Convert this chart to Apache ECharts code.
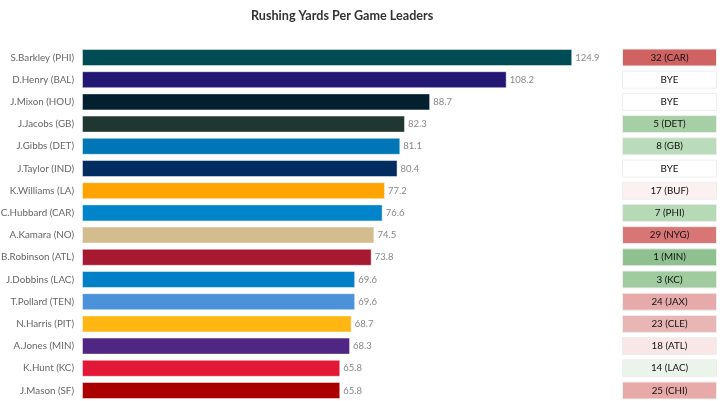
<!DOCTYPE html>
<html>
<head>
<meta charset="utf-8">
<script src="https://cdn.jsdelivr.net/npm/echarts@6/dist/echarts.min.js"></script>
<style>
  html, body { margin: 0; padding: 0; background: #fff; }
  #main { width: 725px; height: 401px; }
</style>
</head>
<body>
<div id="main"></div>
<script>
// players and their rushing yards per game
const players = ['S.Barkley (PHI)', 'D.Henry (BAL)', 'J.Mixon (HOU)', 'J.Jacobs (GB)', 'J.Gibbs (DET)', 'J.Taylor (IND)',
  'K.Williams (LA)', 'C.Hubbard (CAR)', 'A.Kamara (NO)', 'B.Robinson (ATL)', 'J.Dobbins (LAC)', 'T.Pollard (TEN)',
  'N.Harris (PIT)', 'A.Jones (MIN)', 'K.Hunt (KC)', 'J.Mason (SF)']
const yardsPerGame = [124.9, 108.2, 88.7, 82.3, 81.1, 80.4, 77.2, 76.6, 74.5, 73.8, 69.6, 69.6, 68.7, 68.3, 65.8, 65.8]
const teamColors = ['#004c54', '#241773', '#03202f', '#203731', '#0076b6', '#002c5f', '#ffa300', '#0085ca',
  '#d3bc8d', '#a71930', '#0080c6', '#4b92db', '#ffb612', '#4f2683', '#e31837', '#aa0000']

// next opponent (defense rank) column
const opponents = ['32 (CAR)', 'BYE', 'BYE', '5 (DET)', '8 (GB)', 'BYE', '17 (BUF)', '7 (PHI)',
  '29 (NYG)', '1 (MIN)', '3 (KC)', '24 (JAX)', '23 (CLE)', '18 (ATL)', '14 (LAC)', '25 (CHI)']
const opponentColors = ['#d06262', '#ffffff', '#ffffff', '#a6cfa6', '#badcba', '#ffffff', '#fbf1f1', '#b6d9b6',
  '#d87575', '#8fc08f', '#9fcb9f', '#e6aaaa', '#e9b6b6', '#f9e7e7', '#ebf4eb', '#e8a9a9']

const font = 'Lato'

var myChart = echarts.init(document.getElementById('main'))
myChart.setOption({
  animation: false,
  title: {
    text: 'Rushing Yards Per Game Leaders',
    left: 246,
    top: 4,
    textStyle: { fontFamily: font, fontSize: 12.6, fontWeight: 'bold', color: '#333' }
  },
  grid: [
    { left: 82, width: 490.6, top: 46.4, height: 355.2, outerBoundsMode: 'none', containLabel: false },
    { left: 622, width: 95, top: 46.4, height: 355.2, outerBoundsMode: 'none', containLabel: false }
  ],
  xAxis: [
    { gridIndex: 0, type: 'value', min: 0, max: 125, show: false },
    { gridIndex: 1, type: 'value', min: 0, max: 1, show: false }
  ],
  yAxis: [
    {
      gridIndex: 0,
      type: 'category',
      inverse: true,
      data: players,
      axisLine: { show: false },
      axisTick: { show: false },
      axisLabel: { margin: 8, color: '#666', fontFamily: font, fontSize: 9.8 }
    },
    {
      gridIndex: 1,
      type: 'category',
      inverse: true,
      data: opponents,
      show: false
    }
  ],
  series: [
    {
      type: 'bar',
      xAxisIndex: 0,
      yAxisIndex: 0,
      barWidth: 17,
      data: yardsPerGame.map((v, i) => ({
        value: v,
        itemStyle: { color: teamColors[i], borderColor: 'rgba(255,255,255,0.45)', borderWidth: 1 }
      })),
      label: {
        show: true,
        position: 'right',
        distance: 3,
        color: '#888',
        fontFamily: font,
        fontSize: 9.5
      }
    },
    {
      type: 'bar',
      xAxisIndex: 1,
      yAxisIndex: 1,
      barWidth: 18,
      data: opponents.map((o, i) => ({
        value: 1,
        itemStyle: { color: opponentColors[i], borderColor: '#eeeeee', borderWidth: 1 }
      })),
      label: {
        show: true,
        position: 'inside',
        color: '#111',
        fontFamily: font,
        fontSize: 9.8,
        formatter: p => opponents[p.dataIndex]
      }
    }
  ]
})
</script>
</body>
</html>
